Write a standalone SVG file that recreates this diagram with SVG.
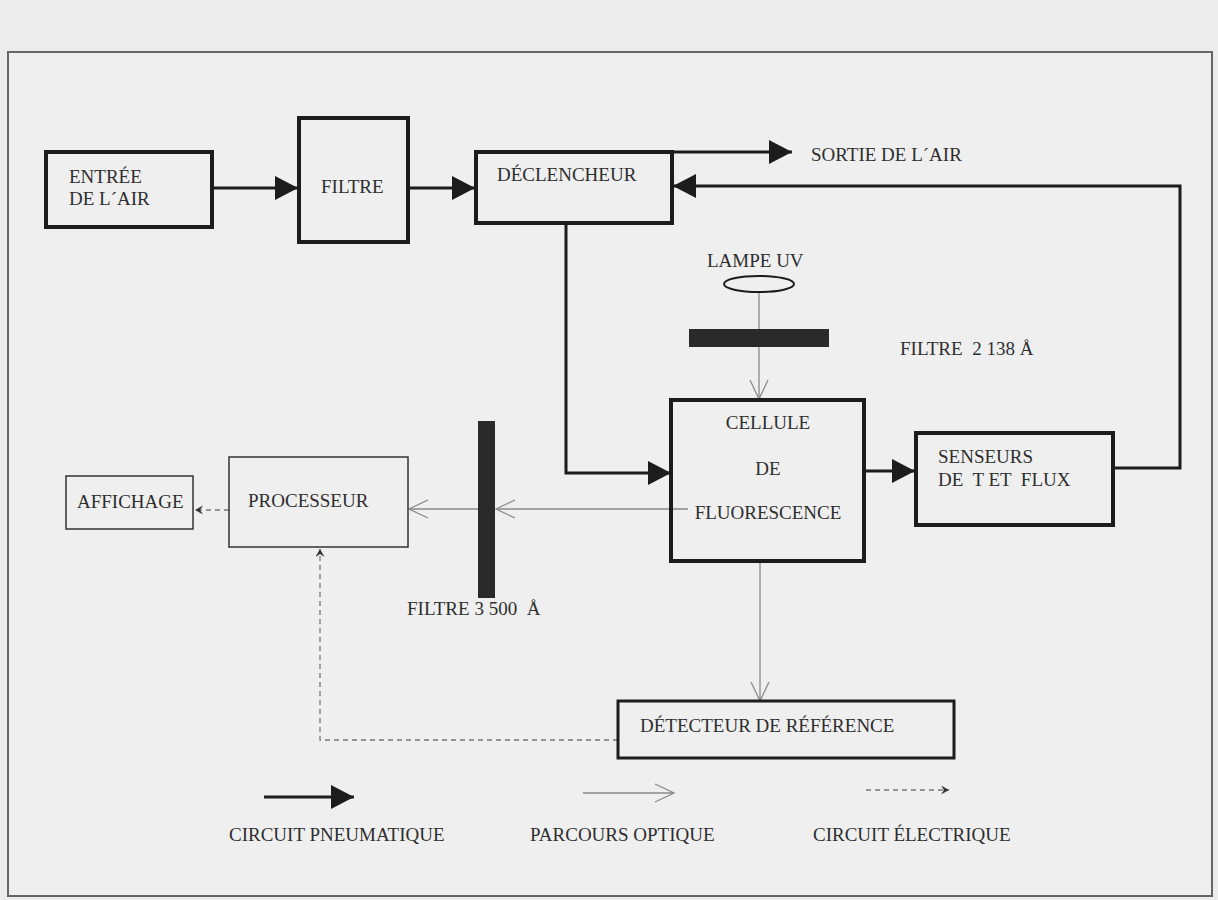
<svg xmlns="http://www.w3.org/2000/svg" width="1218" height="900" viewBox="0 0 1218 900">
<defs>
<style>
text{font-family:"Liberation Serif","Times New Roman",serif;font-size:19px;fill:#2e2e2e}
.thick{fill:none;stroke:#1c1c1c;stroke-width:4}
.thin{fill:none;stroke:#333;stroke-width:1.5}
.pneu{fill:none;stroke:#1c1c1c;stroke-width:3}
.opt{fill:none;stroke:#8a8a8a;stroke-width:1.3}
.elec{fill:none;stroke:#777;stroke-width:1.3;stroke-dasharray:5 4}
</style>
<marker id="mp" markerUnits="userSpaceOnUse" markerWidth="24" markerHeight="24" refX="23" refY="12" orient="auto">
<path d="M0,0 L23,12 L0,24 z" fill="#1c1c1c"/>
</marker>
<marker id="mo" markerUnits="userSpaceOnUse" markerWidth="22" markerHeight="22" refX="20" refY="10" orient="auto">
<path d="M1,1 L20,10 L1,19" fill="none" stroke="#8a8a8a" stroke-width="1.3"/>
</marker>
<marker id="me" markerUnits="userSpaceOnUse" markerWidth="10" markerHeight="10" refX="8" refY="4.5" orient="auto">
<path d="M0,0 L8,4.5 L0,9 L3,4.5 z" fill="#333"/>
</marker>
</defs>
<rect width="1218" height="900" fill="#ececec"/>
<rect x="8" y="52" width="1204" height="844" fill="#efefef" stroke="#666" stroke-width="2"/>

<g id="connectors">
<path class="pneu" d="M212,188 H298" marker-end="url(#mp)"/>
<path class="pneu" d="M408,188 H475" marker-end="url(#mp)"/>
<path class="pneu" d="M672,152 H792" marker-end="url(#mp)"/>
<path class="pneu" d="M1113,468 H1180 V186 H673" marker-end="url(#mp)"/>
<path class="pneu" d="M566,223 V473 H671" marker-end="url(#mp)"/>
<path class="pneu" d="M864,471 H915" marker-end="url(#mp)"/>
<path class="opt" d="M759,292 V399" marker-end="url(#mo)"/>
<path class="opt" d="M760,561 V701" marker-end="url(#mo)"/>
<path class="opt" d="M688,509 H496" marker-end="url(#mo)"/>
<path class="opt" d="M478,509 H409" marker-end="url(#mo)"/>
<path class="elec" d="M229,510 H195" marker-end="url(#me)"/>
<path class="elec" d="M618,740 H320 V549" marker-end="url(#me)"/>
</g>

<g id="entree">
<rect class="thick" x="46" y="152" width="166" height="75"/>
<text x="69" y="183">ENTRÉE</text>
<text x="69" y="205">DE L´AIR</text>
</g>
<g id="filtre">
<rect class="thick" x="299" y="118" width="109" height="124"/>
<text x="321" y="193">FILTRE</text>
</g>
<g id="declencheur">
<rect class="thick" x="476" y="152" width="196" height="71"/>
<text x="497" y="181">DÉCLENCHEUR</text>
</g>
<g id="sortie">
<text x="811" y="161">SORTIE DE L´AIR</text>
</g>
<g id="lampe">
<text x="707" y="267">LAMPE UV</text>
<ellipse cx="759" cy="284" rx="35" ry="8" fill="none" stroke="#1c1c1c" stroke-width="2"/>
</g>
<g id="filtre2138">
<rect x="689" y="329" width="140" height="18" fill="#2a2a2a"/>
<text x="900" y="355" xml:space="preserve">FILTRE  2 138 Å</text>
</g>
<g id="cellule">
<rect class="thick" x="671" y="400" width="193" height="161"/>
<text x="768" y="429" text-anchor="middle">CELLULE</text>
<text x="768" y="475" text-anchor="middle">DE</text>
<text x="768" y="519" text-anchor="middle">FLUORESCENCE</text>
</g>
<g id="senseurs">
<rect class="thick" x="916" y="433" width="197" height="92"/>
<text x="938" y="463">SENSEURS</text>
<text x="938" y="486" xml:space="preserve">DE  T ET  FLUX</text>
</g>
<g id="filtre3500">
<rect x="478" y="421" width="17" height="177" fill="#2a2a2a"/>
<text x="407" y="615" xml:space="preserve">FILTRE 3 500  Å</text>
</g>
<g id="processeur">
<rect class="thin" x="229" y="457" width="179" height="90"/>
<text x="248" y="507">PROCESSEUR</text>
</g>
<g id="affichage">
<rect class="thin" x="66" y="476" width="127" height="53"/>
<text x="77" y="508">AFFICHAGE</text>
</g>
<g id="detecteur">
<rect x="618" y="701" width="336" height="57" fill="none" stroke="#1c1c1c" stroke-width="3"/>
<text x="640" y="732">DÉTECTEUR DE RÉFÉRENCE</text>
</g>
<g id="legend">
<path class="pneu" d="M264,797 H354" marker-end="url(#mp)"/>
<text x="229" y="841">CIRCUIT PNEUMATIQUE</text>
<path class="opt" d="M583,793 H674" marker-end="url(#mo)"/>
<text x="530" y="841">PARCOURS OPTIQUE</text>
<path class="elec" d="M866,790 H949" stroke-dasharray="3 3" marker-end="url(#me)"/>
<text x="813" y="841">CIRCUIT ÉLECTRIQUE</text>
</g>
</svg>
